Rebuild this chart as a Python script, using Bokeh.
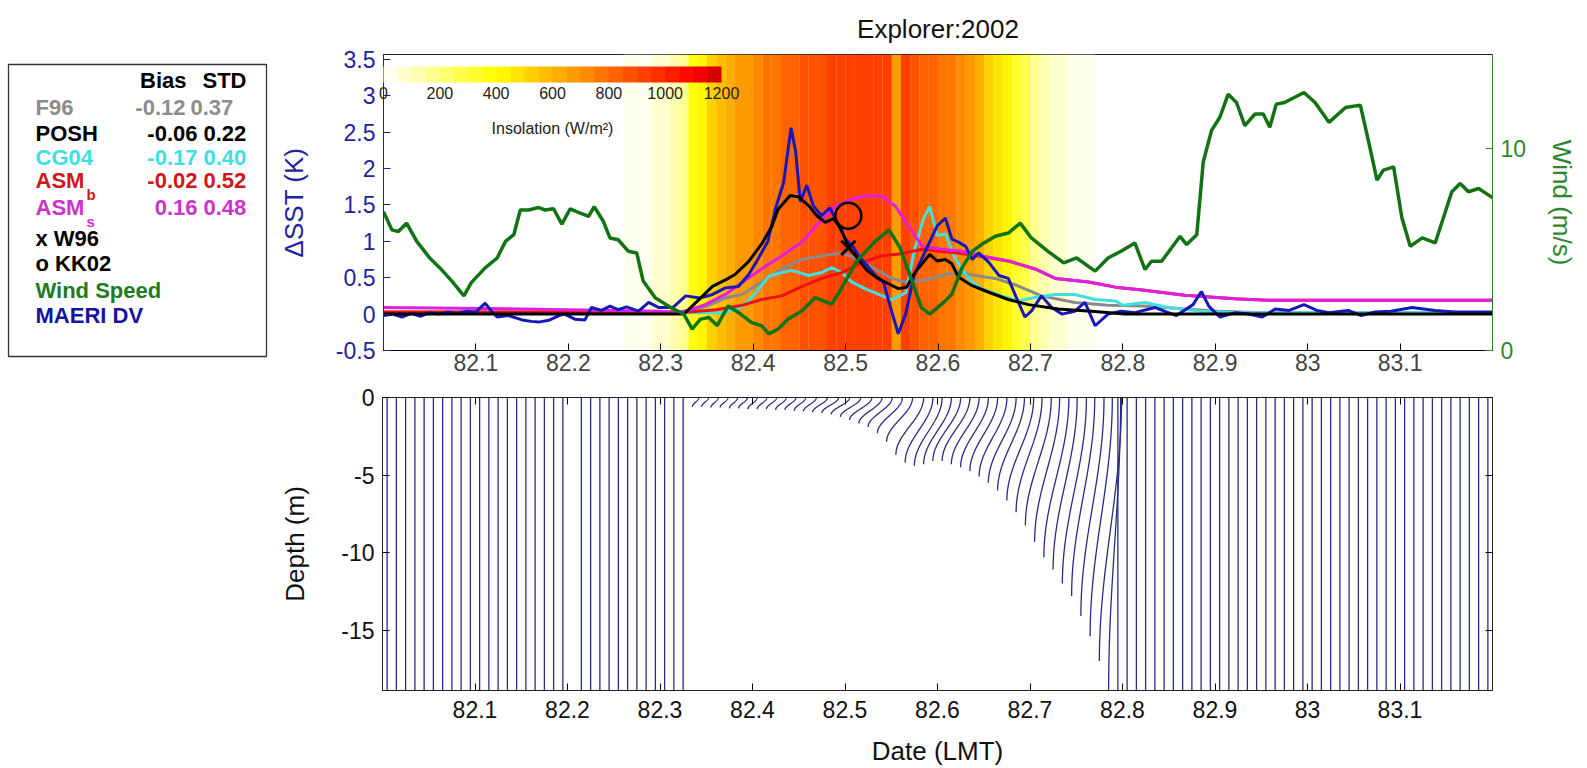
import numpy as np
from bokeh.plotting import figure
from bokeh.models import (Range1d, LinearAxis, FixedTicker, ColorBar, LinearColorMapper,
                          Label, ColumnDataSource)
from bokeh.layouts import column, row
from bokeh.embed import file_html
from bokeh.resources import INLINE
from bokeh.core.properties import value

FONT = "Liberation Sans"

# ---------------- data ----------------
x_ticks = [82.1, 82.2, 82.3, 82.4, 82.5, 82.6, 82.7, 82.8, 82.9, 83.0, 83.1]
x_tick_labels = ["82.1", "82.2", "82.3", "82.4", "82.5", "82.6", "82.7", "82.8", "82.9", "83", "83.1"]
sst_ticks = [-0.5, 0, 0.5, 1, 1.5, 2, 2.5, 3, 3.5]
sst_tick_labels = ["-0.5", "0", "0.5", "1", "1.5", "2", "2.5", "3", "3.5"]
wind_ticks = [0, 10]
depth_ticks = [-15, -10, -5, 0]
depth_tick_labels = ["-15", "-10", "-5", "0"]
insol_ticks = [0, 200, 400, 600, 800, 1000, 1200]

# MAERI DV (blue)
maeri_t = [82.000, 82.010, 82.020, 82.030, 82.040, 82.050, 82.060, 82.070, 82.080, 82.090,
           82.100, 82.110, 82.118, 82.123, 82.135, 82.150, 82.160, 82.168, 82.180, 82.190,
           82.196, 82.207, 82.218, 82.225, 82.236, 82.245, 82.254, 82.263, 82.276, 82.287,
           82.298, 82.313, 82.327, 82.342, 82.356, 82.370, 82.384, 82.395, 82.405, 82.416,
           82.424, 82.433, 82.441, 82.446, 82.451, 82.458, 82.465, 82.474, 82.483, 82.491,
           82.500, 82.509, 82.514, 82.523, 82.532, 82.541, 82.548, 82.557, 82.565, 82.574,
           82.584, 82.591, 82.599, 82.608, 82.615, 82.622, 82.630, 82.637, 82.644, 82.655,
           82.666, 82.676, 82.684, 82.694, 82.701, 82.712, 82.723, 82.734, 82.748, 82.759,
           82.770, 82.784, 82.798, 82.813, 82.835, 82.858, 82.876, 82.885, 82.893, 82.905,
           82.922, 82.936, 82.951, 82.965, 82.980, 82.996, 83.010, 83.023, 83.044, 83.058,
           83.073, 83.090, 83.113, 83.138, 83.160, 83.180, 83.200]
maeri_v = [-0.02, 0.00, -0.04, 0.01, -0.03, 0.02, 0.00, 0.03, 0.01, 0.04,
           0.03, 0.15, 0.02, -0.04, -0.02, -0.08, -0.10, -0.11, -0.08, -0.02,
           0.00, -0.07, -0.08, 0.09, 0.05, 0.11, 0.06, 0.10, 0.04, 0.16,
           0.09, 0.09, 0.25, 0.22, 0.27, 0.36, 0.38, 0.54, 0.75, 1.00,
           1.44, 1.81, 2.56, 2.23, 1.54, 1.77, 1.49, 1.35, 1.46, 1.26,
           1.03, 0.91, 0.80, 0.67, 0.53, 0.44, 0.12, -0.27, 0.00, 0.53,
           0.80, 0.99, 1.21, 1.32, 1.03, 0.99, 0.93, 0.75, 0.84, 0.71,
           0.53, 0.49, 0.25, -0.04, 0.04, 0.25, 0.09, 0.00, 0.04, 0.16,
           -0.16, 0.00, 0.04, 0.02, 0.09, -0.02, 0.13, 0.31, 0.11, -0.04,
           0.02, 0.00, -0.04, 0.07, 0.05, 0.13, 0.05, 0.02, 0.05, -0.02,
           0.03, 0.04, 0.09, 0.05, 0.03, 0.03, 0.03]

# POSH (black)
posh_t = [82.000, 82.325, 82.343, 82.356, 82.370, 82.380, 82.395, 82.409, 82.420, 82.427,
          82.440, 82.449, 82.460, 82.469, 82.478, 82.487, 82.494, 82.503, 82.512, 82.523,
          82.535, 82.546, 82.557, 82.566, 82.575, 82.584, 82.591, 82.599, 82.608, 82.615,
          82.622, 82.637, 82.655, 82.676, 82.698, 82.730, 82.766, 82.802, 83.200]
posh_v = [0.00, 0.00, 0.22, 0.38, 0.47, 0.54, 0.72, 0.96, 1.20, 1.44,
          1.63, 1.61, 1.49, 1.35, 1.26, 1.31, 1.19, 0.93, 0.78, 0.60,
          0.49, 0.42, 0.35, 0.37, 0.57, 0.71, 0.82, 0.73, 0.75, 0.69,
          0.51, 0.39, 0.30, 0.20, 0.13, 0.07, 0.04, 0.00, 0.00]

# F96 (gray)
f96_t = [82.000, 82.300, 82.330, 82.348, 82.370, 82.388, 82.409, 82.431, 82.453, 82.474,
         82.496, 82.514, 82.532, 82.550, 82.565, 82.583, 82.604, 82.622, 82.640, 82.662,
         82.684, 82.712, 82.748, 82.784, 82.821, 82.845, 82.867, 82.903, 82.950, 83.200]
f96_v = [0.03, 0.03, 0.04, 0.10, 0.22, 0.27, 0.44, 0.62, 0.75, 0.80,
         0.84, 0.75, 0.62, 0.49, 0.44, 0.46, 0.53, 0.58, 0.53, 0.49,
         0.40, 0.25, 0.16, 0.12, 0.11, 0.09, 0.07, 0.04, 0.02, 0.02]

# CG04 (cyan)
cg04_t = [82.000, 82.330, 82.370, 82.388, 82.402, 82.417, 82.431, 82.442, 82.460, 82.474,
          82.485, 82.496, 82.507, 82.521, 82.536, 82.550, 82.565, 82.575, 82.584, 82.591,
          82.599, 82.608, 82.619, 82.633, 82.647, 82.669, 82.687, 82.705, 82.727, 82.748,
          82.770, 82.792, 82.800, 82.824, 82.849, 82.885, 82.920, 83.200]
cg04_v = [0.02, 0.02, 0.02, 0.10, 0.28, 0.52, 0.57, 0.60, 0.53, 0.57,
          0.64, 0.57, 0.44, 0.35, 0.27, 0.20, 0.29, 0.90, 1.30, 1.48,
          1.08, 1.10, 0.75, 0.49, 0.35, 0.25, 0.18, 0.23, 0.27, 0.27,
          0.20, 0.18, 0.12, 0.16, 0.09, 0.04, 0.02, 0.02]

# ASM_b (red) - lies under ASM_s after ~82.66
asmb_t = [82.000, 82.330, 82.360, 82.388, 82.409, 82.431, 82.453, 82.474, 82.496, 82.518,
          82.539, 82.561, 82.583, 82.604, 82.622, 82.647, 82.676, 82.705, 82.727, 82.763,
          82.792, 82.821, 82.867, 82.921, 82.957, 83.200]
asmb_v = [0.03, 0.03, 0.06, 0.12, 0.20, 0.25, 0.38, 0.49, 0.57, 0.71,
          0.80, 0.83, 0.89, 0.86, 0.84, 0.79, 0.73, 0.62, 0.49, 0.44,
          0.37, 0.33, 0.26, 0.21, 0.19, 0.19]

# ASM_s (magenta)
asms_t = [82.000, 82.150, 82.300, 82.313, 82.330, 82.348, 82.370, 82.391, 82.409, 82.431,
          82.453, 82.474, 82.489, 82.507, 82.525, 82.539, 82.554, 82.568, 82.583, 82.604,
          82.626, 82.647, 82.676, 82.705, 82.727, 82.763, 82.792, 82.821, 82.867, 82.921,
          82.957, 83.200]
asms_v = [0.09, 0.07, 0.04, 0.02, 0.05, 0.13, 0.27, 0.46, 0.62, 0.80,
          0.99, 1.30, 1.48, 1.58, 1.63, 1.62, 1.48, 1.21, 0.93, 0.89,
          0.86, 0.80, 0.73, 0.62, 0.49, 0.44, 0.37, 0.33, 0.26, 0.21,
          0.19, 0.19]

# Wind speed (green, m/s)
wind_t = [82.000, 82.009, 82.016, 82.025, 82.036, 82.050, 82.061, 82.074, 82.087, 82.095,
          82.110, 82.123, 82.132, 82.141, 82.148, 82.157, 82.168, 82.175, 82.184, 82.193,
          82.202, 82.213, 82.222, 82.228, 82.238, 82.245, 82.254, 82.265, 82.274, 82.281,
          82.294, 82.305, 82.314, 82.325, 82.334, 82.343, 82.352, 82.361, 82.373, 82.384,
          82.398, 82.409, 82.417, 82.427, 82.438, 82.453, 82.467, 82.485, 82.496, 82.512,
          82.532, 82.547, 82.559, 82.572, 82.582, 82.591, 82.604, 82.615, 82.626, 82.637,
          82.647, 82.662, 82.676, 82.689, 82.701, 82.719, 82.736, 82.750, 82.770, 82.784,
          82.798, 82.813, 82.824, 82.831, 82.842, 82.862, 82.869, 82.880, 82.887, 82.896,
          82.905, 82.914, 82.923, 82.932, 82.943, 82.952, 82.959, 82.966, 82.975, 82.996,
          83.008, 83.023, 83.041, 83.057, 83.066, 83.075, 83.082, 83.093, 83.102, 83.111,
          83.124, 83.138, 83.156, 83.165, 83.174, 83.185, 83.200]
wind_v = [6.86, 5.96, 5.88, 6.29, 5.39, 4.57, 4.08, 3.43, 2.70, 3.35,
          4.08, 4.57, 5.39, 5.72, 6.94, 6.94, 7.06, 6.94, 7.00, 6.24,
          7.00, 6.78, 6.62, 7.11, 6.37, 5.56, 5.47, 4.90, 4.82, 3.43,
          2.61, 2.29, 2.04, 1.80, 1.06, 1.55, 1.63, 1.23, 2.20, 1.88,
          1.39, 1.23, 0.82, 1.06, 1.55, 1.96, 2.61, 2.29, 3.10, 4.41,
          5.39, 5.96, 5.07, 3.43, 2.12, 1.80, 2.29, 2.78, 4.08, 4.90,
          5.23, 5.64, 5.80, 6.29, 5.56, 4.90, 4.33, 4.57, 3.92, 4.57,
          4.90, 5.31, 4.00, 4.41, 4.41, 5.64, 5.23, 5.72, 9.31, 10.87,
          11.52, 12.66, 12.25, 11.11, 11.68, 11.68, 11.03, 12.17, 12.25, 12.74,
          12.25, 11.27, 12.00, 12.12, 10.30, 8.42, 8.91, 9.07, 6.54, 5.15,
          5.56, 5.31, 7.84, 8.25, 7.84, 8.00, 7.55]

# single-point estimates
w96_t, w96_v = [82.503], [0.91]
kk02_t, kk02_v = [82.503], [1.35]

# insolation shading (W/m^2), 0.01-day bins
insol_t = [82.265, 82.275, 82.285, 82.295, 82.305, 82.315, 82.325, 82.335,
           82.345, 82.355, 82.365, 82.375, 82.385, 82.395, 82.405, 82.415, 82.425, 82.435,
           82.445, 82.455, 82.465, 82.475, 82.485, 82.495, 82.505, 82.515, 82.525, 82.535,
           82.545, 82.555, 82.565, 82.575, 82.585, 82.595, 82.605, 82.615, 82.625, 82.635,
           82.645, 82.655, 82.665, 82.675, 82.685, 82.695, 82.705, 82.715, 82.725, 82.735,
           82.745, 82.755, 82.765]
insol_v = [12, 25, 40, 60, 90, 130, 190, 380,
           440, 500, 550, 600, 650, 690, 730, 760, 790, 820,
           840, 860, 870, 880, 900, 910, 920, 930, 930, 935,
           930, 690, 910, 870, 840, 820, 790, 760, 720, 660,
           600, 540, 460, 400, 330, 250, 170, 120, 80, 55,
           35, 20, 8]

# temperature profiles (bottom panel): 0.01-day sampling
profile_times = [round(82.005 + 0.01 * k, 3) for k in range(120)]
profile_missing = [82.205]
full_depth = 18.9
# warm-layer profiles between 82.335 and 82.785
warm_t = [82.335, 82.345, 82.355, 82.365, 82.375, 82.385, 82.395, 82.405, 82.415, 82.425,
          82.435, 82.445, 82.455, 82.465, 82.475, 82.485, 82.495, 82.505, 82.515, 82.525,
          82.535, 82.545, 82.555, 82.565, 82.575, 82.585, 82.595, 82.605, 82.615, 82.625,
          82.635, 82.645, 82.655, 82.665, 82.675, 82.685, 82.695, 82.705, 82.715, 82.725,
          82.735, 82.745, 82.755, 82.765, 82.775, 82.785]
warm_depth = [0.6, 0.6, 0.65, 0.65, 0.7, 0.7, 0.75, 0.75, 0.75, 0.8,
              0.8, 0.85, 0.9, 0.95, 1.0, 1.1, 1.25, 1.45, 1.68, 1.9,
              2.3, 2.85, 3.7, 4.2, 4.4, 4.3, 4.1, 4.1, 4.3, 4.5,
              4.75, 5.1, 5.5, 6.0, 6.65, 7.4, 8.25, 9.3, 10.3, 11.1,
              12.0, 12.8, 14.1, 15.4, 17.0, 18.9]
warm_shift = [0.007, 0.0075, 0.008, 0.0085, 0.009, 0.0095, 0.010, 0.0105, 0.011, 0.0115,
              0.012, 0.0125, 0.014, 0.016, 0.018, 0.020, 0.022, 0.024, 0.025, 0.026,
              0.027, 0.028, 0.030, 0.030, 0.030, 0.030, 0.030, 0.030, 0.030, 0.030,
              0.030, 0.030, 0.030, 0.029, 0.029, 0.028, 0.028, 0.027, 0.027, 0.026,
              0.026, 0.025, 0.025, 0.024, 0.024, 0.013]

# legend table
leg_models = ["F96", "POSH", "CG04", "ASM", "ASM"]
leg_sub = ["", "", "", "b", "s"]
leg_bias = ["-0.12", "-0.06", "-0.17", "-0.02", "0.16"]
leg_std = ["0.37", "0.22", "0.40", "0.52", "0.48"]
leg_colors = ["#8c8c8c", "#000000", "#3fe0e0", "#d01818", "#cc33cc"]
leg_extra = ["x W96", "o KK02", "Wind Speed", "MAERI DV"]
leg_extra_colors = ["#000000", "#000000", "#1e7b1e", "#1414a0"]

# ---------------- styling ----------------
X0, X1 = 82.0, 83.2
Y0, Y1 = -0.5, 3.565
WMAX = 14.62
BLUE_AX = "#1f1f9a"
GREEN_AX = "#2f7f2f"
TICK_FS = "23px"
LABEL_FS = "26px"


def cmap(v):
    if v <= 400:
        return (255, 255, int(round(255 * (1 - v / 400))))
    if v <= 1100:
        return (255, int(round(255 * (1 - (v - 400) / 700))), 0)
    return (int(round(255 - 55 * (v - 1100) / 100)), 0, 0)


palette = ["#%02x%02x%02x" % cmap(25 + 50 * i) for i in range(24)]
mapper = LinearColorMapper(palette=palette, low=0, high=1200)

# ---------------- top panel ----------------
top = figure(width=1312, height=380, x_range=Range1d(X0, X1), y_range=Range1d(Y0, Y1),
             output_backend="svg", toolbar_location=None,
             min_border_left=107, min_border_right=95, min_border_top=52, min_border_bottom=30)
top.extra_y_ranges = {"wind": Range1d(0, WMAX)}
top.grid.visible = False
top.outline_line_color = "#222222"
top.title.text = "Explorer:2002"
top.title.align = "center"
top.title.text_font = FONT
top.title.text_font_size = "26px"
top.title.text_font_style = "normal"
top.title.text_color = "#111111"
top.title.standoff = 22

src_ins = ColumnDataSource(dict(l=[t - 0.0051 for t in insol_t], r=[t + 0.0051 for t in insol_t],
                                v=insol_v))
top.quad(left="l", right="r", bottom=Y0, top=Y1, source=src_ins,
         fill_color={"field": "v", "transform": mapper}, line_color=None)

cb = ColorBar(color_mapper=mapper, orientation="horizontal", location=(0, 249), width=338, height=16,
              padding=0, ticker=FixedTicker(ticks=insol_ticks), major_label_text_font=FONT,
              major_label_text_font_size="16px", major_label_text_color="#222222", label_standoff=4,
              major_tick_line_color=None, minor_tick_line_color=None, bar_line_color=None,
              border_line_color=None, background_fill_alpha=0)
top.add_layout(cb, "center")
top.add_layout(Label(x=169, y=222, x_units="screen", y_units="screen", text="Insolation (W/m²)",
                     text_font=FONT, text_font_size="16px", text_color="#222222",
                     text_align="center", text_baseline="middle"))

top.line(f96_t, f96_v, line_color="#8a8a8a", line_width=3)
top.line(cg04_t, cg04_v, line_color="#40e0e0", line_width=3)
top.line(asmb_t, asmb_v, line_color="#ee1111", line_width=3)
top.line(asms_t, asms_v, line_color="#e020e0", line_width=3)
top.line(maeri_t, maeri_v, line_color="#1818b8", line_width=3)
top.line(posh_t, posh_v, line_color="#000000", line_width=3)
top.line(wind_t, wind_v, line_color="#127312", line_width=3.5, y_range_name="wind")
top.scatter(kk02_t, kk02_v, marker="circle", size=26, fill_color=None, line_color="black", line_width=2.5)
top.scatter(w96_t, w96_v, marker="x", size=20, line_color="black", line_width=3)

# axes
xa = top.xaxis[0]
xa.ticker = FixedTicker(ticks=x_ticks)
xa.major_label_overrides = dict(zip(x_ticks, x_tick_labels))
ya = top.yaxis[0]
ya.ticker = FixedTicker(ticks=sst_ticks)
ya.major_label_overrides = dict(zip(sst_ticks, sst_tick_labels))
ya.axis_label = "ΔSST (K)"
ya.axis_line_color = BLUE_AX
ya.major_tick_line_color = BLUE_AX
ya.major_label_text_color = "#2222a0"
ya.axis_label_text_color = "#2222a0"
wa = LinearAxis(y_range_name="wind", ticker=FixedTicker(ticks=wind_ticks), axis_label="Wind (m/s)")
wa.axis_line_color = GREEN_AX
wa.major_tick_line_color = GREEN_AX
wa.major_label_text_color = "#2f862f"
wa.axis_label_text_color = "#2f862f"
top.add_layout(wa, "right")
for ax in (xa, ya, wa):
    ax.major_tick_in = 7
    ax.major_tick_out = 0
    ax.minor_tick_line_color = None
    ax.major_label_text_font = FONT
    ax.major_label_text_font_size = TICK_FS
    ax.axis_label_text_font = FONT
    ax.axis_label_text_font_size = LABEL_FS
    ax.axis_label_text_font_style = "normal"
    ax.major_label_standoff = 8
xa.major_label_standoff = 3
ya.axis_label_standoff = 24
wa.axis_label_standoff = 18

# ---------------- legend panel ----------------
leg = figure(width=275, height=380, x_range=Range1d(0, 275), y_range=Range1d(380, 0),
             output_backend="svg", toolbar_location=None, min_border=0, title=None,
             x_axis_location=None, y_axis_location=None)
try:
    leg.frame_align = False
except Exception:
    pass
leg.grid.visible = False
leg.outline_line_color = None
leg.quad(left=[8], right=[266], top=[64], bottom=[356], fill_color="white",
         line_color="#333333", line_width=1.3)
row_y = [107, 133, 157, 180, 207]
bias_right = [185, 197, 197, 197, 197]
std_left = [190, 203, 203, 203, 203]
lt = ["Bias", "STD"] + leg_models + leg_extra
lx = [186, 202] + [35] * 5 + [35] * 4
ly = [80, 80] + row_y + [238, 263, 290, 315]
lc = ["black", "black"] + leg_colors + leg_extra_colors
la = ["right", "left"] + ["left"] * 9
for i in range(5):
    lt += [leg_bias[i], leg_std[i]]
    lx += [bias_right[i], std_left[i]]
    ly += [row_y[i], row_y[i]]
    lc += [leg_colors[i], leg_colors[i]]
    la += ["right", "left"]
leg.text(x=lx, y=ly, text=lt, text_color=lc, text_align=la, text_font=value(FONT),
         text_font_style="bold", text_font_size="22px", text_baseline="middle")
sx, sy, st, sc = [], [], [], []
for i, s in enumerate(leg_sub):
    if s:
        sx.append(86)
        sy.append(row_y[i] + 14)
        st.append(s)
        sc.append(leg_colors[i])
leg.text(x=sx, y=sy, text=st, text_color=sc, text_font=value(FONT), text_font_style="bold",
         text_font_size="15px", text_baseline="middle")

# ---------------- bottom panel ----------------
bot = figure(width=1587, height=388, x_range=Range1d(X0, X1), y_range=Range1d(-full_depth, 0),
             output_backend="svg", toolbar_location=None,
             min_border_left=382, min_border_right=95, min_border_top=17, min_border_bottom=73)
bot.grid.visible = False
bot.outline_line_color = "#222222"

warm = dict(zip(warm_t, zip(warm_depth, warm_shift)))
xs, ys = [], []
for t in profile_times:
    if t in profile_missing:
        continue
    if t in warm:
        d, s = warm[t]
        z = np.linspace(0, d, 40)
        xs.append(list(t + s * (1 + np.cos(np.pi * z / d)) / 2))
        ys.append(list(-z))
    else:
        xs.append([t, t])
        ys.append([0, -full_depth])
bot.multi_line(xs, ys, line_color="#2b2b80", line_width=1.3)

bxa = bot.xaxis[0]
bxa.ticker = FixedTicker(ticks=x_ticks)
bxa.major_label_overrides = dict(zip(x_ticks, x_tick_labels))
bxa.axis_label = "Date (LMT)"
bya = bot.yaxis[0]
bya.ticker = FixedTicker(ticks=depth_ticks)
bya.major_label_overrides = dict(zip(depth_ticks, depth_tick_labels))
bya.axis_label = "Depth (m)"
for ax in (bxa, bya):
    ax.major_tick_in = 7
    ax.major_tick_out = 0
    ax.minor_tick_line_color = None
    ax.axis_line_color = "#222222"
    ax.major_label_text_font = FONT
    ax.major_label_text_font_size = TICK_FS
    ax.major_label_text_color = "#111111"
    ax.axis_label_text_font = FONT
    ax.axis_label_text_font_size = LABEL_FS
    ax.axis_label_text_font_style = "normal"
    ax.axis_label_text_color = "#111111"
    ax.major_label_standoff = 8
bxa.major_label_standoff = 10
bxa.axis_label_standoff = 15
bya.axis_label_standoff = 28
ta = LinearAxis(ticker=FixedTicker(ticks=x_ticks), major_label_text_font_size="0px",
                axis_line_color=None, major_tick_in=7, major_tick_out=0, minor_tick_line_color=None,
                major_label_standoff=0)
bot.add_layout(ta, "above")
ra = LinearAxis(ticker=FixedTicker(ticks=depth_ticks), major_label_text_font_size="0px",
                axis_line_color=None, major_tick_in=7, major_tick_out=0, minor_tick_line_color=None,
                major_label_standoff=0)
bot.add_layout(ra, "right")

layout = column(row(leg, top, spacing=0), bot, spacing=0)
open("out.html", "w").write(file_html(layout, INLINE))
